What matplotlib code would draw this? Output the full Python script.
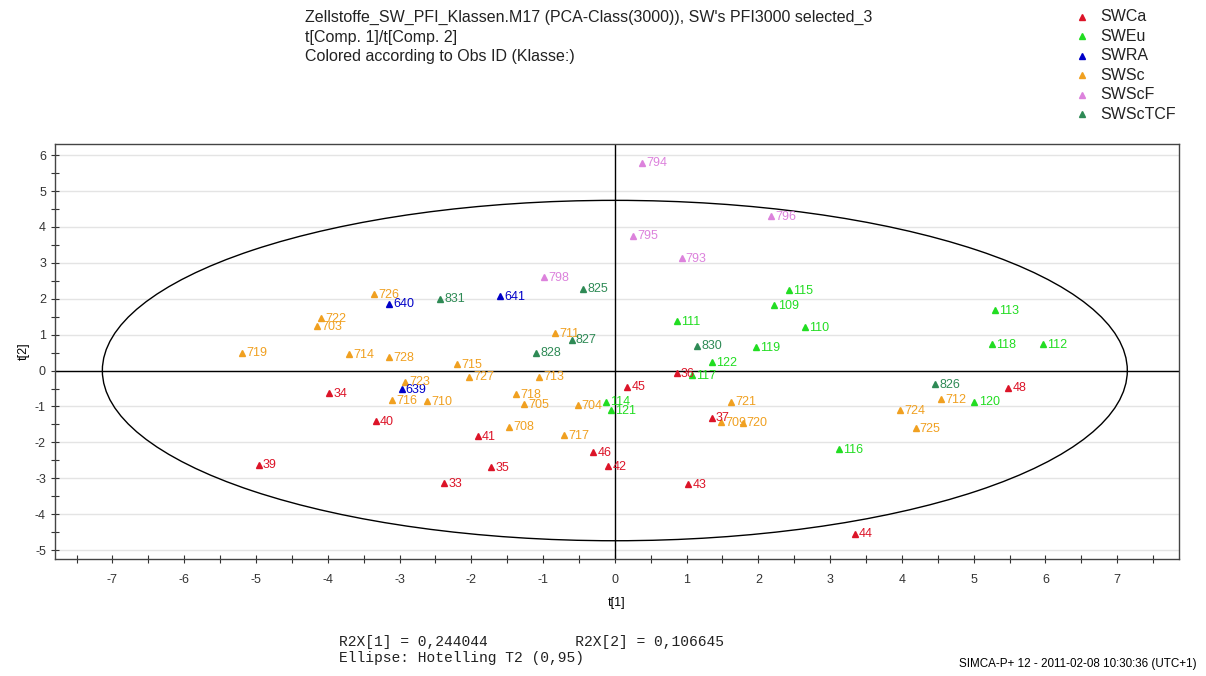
import numpy as np
import matplotlib.pyplot as plt
from matplotlib.patches import Ellipse

# score values t[1], t[2] per class
swca_id = ['34', '40', '39', '33', '41', '35', '46', '42', '45', '36', '37', '43', '44', '48']
swca_t1 = [-3.98, -3.33, -4.96, -2.38, -1.91, -1.72, -0.30, -0.09, 0.17, 0.86, 1.35, 1.02, 3.34, 5.48]
swca_t2 = [-0.62, -1.41, -2.62, -3.14, -1.83, -2.69, -2.28, -2.66, -0.45, -0.07, -1.31, -3.17, -4.54, -0.48]

sweu_id = ['115', '109', '111', '110', '119', '113', '118', '112', '122', '117', '114', '121', '116', '120']
sweu_t1 = [2.43, 2.22, 0.86, 2.65, 1.96, 5.30, 5.26, 5.96, 1.35, 1.07, -0.13, -0.06, 3.12, 5.01]
sweu_t2 = [2.23, 1.83, 1.38, 1.20, 0.65, 1.69, 0.74, 0.74, 0.24, -0.13, -0.87, -1.11, -2.18, -0.87]

swra_id = ['640', '641', '639']
swra_t1 = [-3.14, -1.60, -2.97]
swra_t2 = [1.86, 2.07, -0.52]

swsc_id = ['726', '722', '703', '719', '714', '728', '723', '716', '710', '715', '727', '713',
           '711', '718', '705', '704', '708', '717', '721', '709', '720', '724', '725', '712']
swsc_t1 = [-3.35, -4.09, -4.15, -5.19, -3.70, -3.14, -2.92, -3.10, -2.62, -2.20, -2.03, -1.05,
           -0.83, -1.38, -1.26, -0.52, -1.47, -0.71, 1.62, 1.48, 1.78, 3.98, 4.19, 4.55]
swsc_t2 = [2.13, 1.45, 1.24, 0.50, 0.45, 0.37, -0.31, -0.83, -0.85, 0.17, -0.17, -0.17,
           1.04, -0.65, -0.93, -0.97, -1.56, -1.79, -0.87, -1.44, -1.45, -1.11, -1.60, -0.80]

swscf_id = ['794', '796', '795', '793', '798']
swscf_t1 = [0.38, 2.18, 0.26, 0.93, -0.98]
swscf_t2 = [5.79, 4.30, 3.76, 3.14, 2.60]

swsctcf_id = ['831', '825', '827', '830', '828', '826']
swsctcf_t1 = [-2.43, -0.44, -0.60, 1.15, -1.10, 4.46]
swsctcf_t2 = [2.00, 2.28, 0.86, 0.69, 0.50, -0.38]

classes = [
    ('SWCa', swca_id, swca_t1, swca_t2, '#dc1428'),
    ('SWEu', sweu_id, sweu_t1, sweu_t2, '#22dd22'),
    ('SWRA', swra_id, swra_t1, swra_t2, '#0000c8'),
    ('SWSc', swsc_id, swsc_t1, swsc_t2, '#f0a020'),
    ('SWScF', swscf_id, swscf_t1, swscf_t2, '#dc82dc'),
    ('SWScTCF', swsctcf_id, swsctcf_t1, swsctcf_t2, '#2e8a55'),
]

# Hotelling T2 (0.95) ellipse semi-axes
t2_a = 7.14
t2_b = 4.74

plt.rcParams['font.family'] = ['Liberation Sans', 'DejaVu Sans']
plt.rcParams['axes.unicode_minus'] = False

fig = plt.figure(figsize=(12.06, 6.76), dpi=100)
ax = fig.add_axes([0.0456, 0.173, 0.932, 0.614])

for name, ids, t1, t2, col in classes:
    ax.plot(t1, t2, '^', color=col, ms=5, mec=col, ls='none', zorder=3)
    for lab, x, y in zip(ids, t1, t2):
        ax.annotate(lab, (x, y), xytext=(3, -0.5), textcoords='offset points',
                    color=col, fontsize=9, va='center', ha='left', zorder=4)

ax.add_patch(Ellipse((0, 0), 2 * t2_a, 2 * t2_b, fill=False, ec='black', lw=1.0, zorder=2))
ax.axhline(0, color='black', lw=1.0, zorder=2)
ax.axvline(0, color='black', lw=1.0, zorder=2)

ax.set_xlim(-7.8, 7.86)
ax.set_ylim(-5.25, 6.31)
ax.set_xticks(np.arange(-7, 8, 1))
ax.set_xticks(np.arange(-7.5, 8, 1), minor=True)
ax.set_yticks(np.arange(-5, 7, 1))
ax.set_yticks(np.arange(-4.5, 6, 1), minor=True)
ax.yaxis.grid(True, color='#e4e4e4', lw=1.0, zorder=0)
ax.set_axisbelow(True)
ax.tick_params(axis='both', which='both', direction='inout', length=6, width=0.8,
               labelsize=9, colors='#333333')
ax.tick_params(axis='x', pad=8)
for s in ax.spines.values():
    s.set_color('#444444')
    s.set_linewidth(1.0)

ax.set_xlabel('t[1]', fontsize=9, labelpad=8)
ax.set_ylabel('t[2]', fontsize=9, labelpad=4)

title_lines = ["Zellstoffe_SW_PFI_Klassen.M17 (PCA-Class(3000)), SW's PFI3000 selected_3",
               't[Comp. 1]/t[Comp. 2]',
               'Colored according to Obs ID (Klasse:)']
for i, line in enumerate(title_lines):
    fig.text(0.253, 0.974 - i * 0.029, line, fontsize=11.5, va='center', ha='left',
             color='#222222')

# class legend at top right
for i, (name, ids, t1, t2, col) in enumerate(classes):
    yy = 0.975 - i * 0.0288
    fig.lines.append(plt.Line2D([0.8975], [yy], marker='^', ms=4, color=col,
                                transform=fig.transFigure, ls='none'))
    fig.text(0.9125, yy, name, fontsize=11.5, va='center', ha='left', color='#222222')

fig.text(0.281, 0.051, 'R2X[1] = 0,244044          R2X[2] = 0,106645',
         family='Liberation Mono', fontsize=10.5, va='center', color='#222222')
fig.text(0.281, 0.027, 'Ellipse: Hotelling T2 (0,95)',
         family='Liberation Mono', fontsize=10.5, va='center', color='#222222')
fig.text(0.992, 0.018, 'SIMCA-P+ 12 - 2011-02-08 10:30:36 (UTC+1)', fontsize=8.4,
         va='center', ha='right')

fig.savefig('out.png', dpi=100)
